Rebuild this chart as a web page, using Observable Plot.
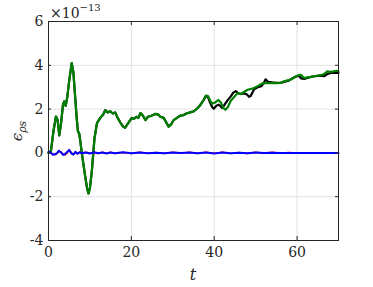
<!DOCTYPE html>
<html>
<head>
<meta charset="utf-8">
<script src="https://cdn.jsdelivr.net/npm/d3@7"></script>
<script src="https://cdn.jsdelivr.net/npm/@observablehq/plot@0.6"></script>
<style>
  html, body { margin: 0; padding: 0; background: white; }
  #wrap { position: relative; width: 373px; height: 287px; }
  #exp { position: absolute; left: 50px; top: 3px; font-family: 'DejaVu Serif', serif; font-size: 14px; color: #262626; }
  #exp sup { font-size: 10px; position: relative; top: -1px; }
  svg text { font-family: 'DejaVu Serif', serif !important; }
</style>
</head>
<body>
<div id="wrap"><div id="exp">×10<sup>−13</sup></div></div>
<script>
const xTicks = [0, 20, 40, 60];
const yTicks = [-4, -2, 0, 2, 4, 6];

const greenT = [0,0.6,1.2,1.8,2.2,2.6,3.0,3.5,3.8,4.15,4.5,5.0,5.6,6.0,6.4,6.8,7.1,7.45,7.7,8.0,8.8,9.3,9.65,10.0,10.45,11.1,11.7,12.5,13.2,13.7,14.3,14.9,15.5,16.1,16.7,17.3,18.0,18.5,19.2,20.1,20.6,21.2,21.7,22.2,22.8,23.4,24.0,24.8,25.8,26.5,27.0,27.8,28.4,29.0,29.6,30.2,31.0,31.8,32.5,33.3,34.2,35.1,36.0,36.7,37.4,38.0,38.5,39.0,39.5,40.2,41.0,41.6,42.2,42.7,43.3,44.0,44.8,45.6,46.4,47.2,48.0,48.8,49.6,50.5,51.4,52.4,53.3,54.4,55.2,56.1,57.0,58.0,58.8,59.7,60.4,60.9,61.7,62.5,63.3,64.1,65.0,65.8,66.5,67.3,68.0,68.8,69.5,70];
const greenV = [0,0.1,1.0,1.66,1.5,0.8,1.3,2.2,2.35,2.15,2.5,3.3,4.1,3.7,2.65,1.6,1.0,0.85,0.5,0.05,-1.0,-1.6,-1.85,-1.6,-0.85,0.67,1.36,1.6,1.75,1.95,1.85,1.9,1.8,1.85,1.6,1.4,1.2,1.15,1.35,1.6,1.55,1.65,1.6,1.82,1.7,1.5,1.65,1.7,1.78,1.75,1.65,1.6,1.4,1.2,1.3,1.5,1.6,1.7,1.72,1.8,1.85,1.9,2.05,2.2,2.4,2.62,2.6,2.4,2.25,2.3,2.42,2.3,2.05,1.97,2.1,2.38,2.55,2.73,2.68,2.78,2.88,2.92,2.96,3.05,3.15,3.2,3.18,3.2,3.18,3.2,3.28,3.32,3.38,3.5,3.55,3.57,3.42,3.45,3.47,3.5,3.53,3.55,3.6,3.72,3.7,3.72,3.75,3.73];

// black: identical to green until t≈37, then diverges
const blackT = [37.4,38.0,38.5,39.0,39.5,39.9,40.5,41.1,41.6,41.9,42.5,43.2,44.0,44.6,45.2,45.8,46.4,47.2,48.0,48.4,48.8,49.6,50.5,51.4,52.0,52.4,53.0,54.0,55.0,56.0,57.0,58.0,58.8,59.7,60.4,61.0,61.7,62.5,63.5,64.5,65.5,66.5,67.3,68.2,69.0,70];
const blackV = [2.4,2.6,2.55,2.3,2.1,2.02,2.15,2.2,2.12,2.05,2.2,2.4,2.58,2.75,2.82,2.72,2.7,2.72,2.65,2.56,2.6,2.9,3.0,3.05,3.2,3.36,3.25,3.22,3.2,3.2,3.25,3.3,3.4,3.48,3.52,3.4,3.38,3.42,3.48,3.5,3.53,3.5,3.6,3.65,3.65,3.65];

const smallT = [0,0.5,1,1.5,2,2.5,3,3.5,4,4.5,5,5.5,6,6.5,7,7.5,8,9,10,11,12,13,14,15,16,18,20,22,24,26,28,30,32,34,36,38,40,42,44,46,48,50,52,54,56,58,60,62,64,66,68,70];
const blueV = [0.05,0.02,-0.08,-0.06,-0.02,0.1,0.03,-0.09,-0.05,0.04,0.13,-0.02,-0.08,0.05,-0.04,0.03,-0.02,0.02,-0.03,0.03,-0.02,0.02,-0.03,0.02,-0.02,0.03,-0.02,0.02,-0.02,0.01,-0.02,0.02,-0.01,0.02,-0.02,0.02,-0.03,0.02,-0.02,0.01,-0.02,0.02,-0.01,0.01,-0.01,0,0,0,0,0,0,0];
const redV = [0.03,0.01,-0.05,-0.09,-0.04,0.06,0.05,-0.06,-0.1,0.0,0.15,0.02,-0.06,0.03,-0.05,0.04,-0.03,0.03,-0.02,0.02,-0.03,0.03,-0.02,0.03,-0.03,0.02,-0.03,0.03,-0.02,0.02,-0.03,0.03,-0.02,0.03,-0.03,0.03,-0.02,0.03,-0.03,0.02,-0.03,0.03,-0.02,0.03,-0.02,0.02,0,0,0,0,0,0];

const green = greenT.map((t, i) => ({t, v: greenV[i]}));
const black = green.filter(d => d.t < 37.4).concat(blackT.map((t, i) => ({t, v: blackV[i]})));
const blue = smallT.map((t, i) => ({t, v: blueV[i]}));
const red = smallT.map((t, i) => ({t, v: redV[i]}));

const axisColor = "#262626";
const plot = Plot.plot({
  width: 373, height: 287,
  marginLeft: 48, marginRight: 35, marginTop: 21, marginBottom: 47,
  x: {domain: [0, 70]},
  y: {domain: [-4, 6]},
  style: {fontFamily: "'DejaVu Serif', serif", fontSize: "14px", color: axisColor, background: "white"},
  marks: [
    Plot.ruleX(xTicks, {stroke: "#e3e3e3", strokeWidth: 1}),
    Plot.ruleY(yTicks, {stroke: "#e3e3e3", strokeWidth: 1}),
    Plot.line(black, {x: "t", y: "v", stroke: "#000000", strokeWidth: 2.2}),
    Plot.line(green, {x: "t", y: "v", stroke: "#008000", strokeWidth: 2.2}),
    Plot.line(red, {x: "t", y: "v", stroke: "#ff0000", strokeWidth: 1.5}),
    Plot.line(blue, {x: "t", y: "v", stroke: "#0000ff", strokeWidth: 2}),
    Plot.ruleX(xTicks, {stroke: axisColor, insetTop: 215}),
    Plot.ruleX(xTicks, {stroke: axisColor, insetBottom: 215}),
    Plot.ruleY(yTicks, {stroke: axisColor, insetRight: 287}),
    Plot.ruleY(yTicks, {stroke: axisColor, insetLeft: 287}),
    Plot.frame({stroke: axisColor}),
    Plot.axisX({ticks: xTicks, tickSize: 0, tickPadding: 7, label: null, tickFormat: d => String(d)}),
    Plot.axisY({ticks: yTicks, tickSize: 0, tickPadding: 5, label: null, tickFormat: d => String(d)})
  ]
});
document.getElementById("wrap").appendChild(plot);

const svg = d3.select(plot);
svg.append("text")
  .attr("x", 193).attr("y", 280)
  .attr("text-anchor", "middle")
  .attr("font-style", "italic")
  .attr("font-size", 16)
  .attr("fill", axisColor)
  .text("t");
const yl = svg.append("text")
  .attr("transform", "translate(22,131) rotate(-90)")
  .attr("text-anchor", "middle")
  .attr("font-style", "italic")
  .attr("font-size", 15)
  .attr("fill", axisColor);
yl.append("tspan").text("ϵ");
yl.append("tspan").attr("font-size", 11).attr("dy", 4).text("ρs");
</script>
</body>
</html>
